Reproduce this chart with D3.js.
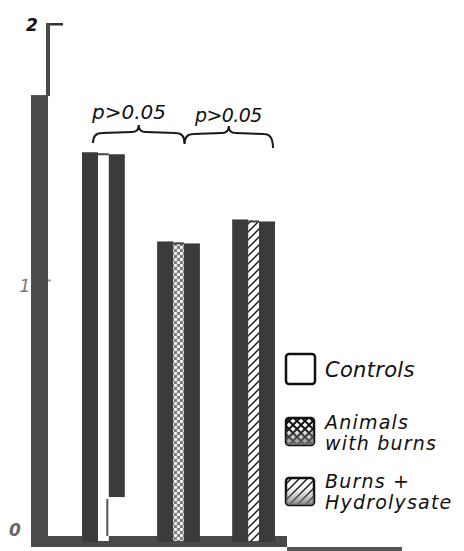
<!DOCTYPE html>
<html>
<head>
<meta charset="utf-8">
<script src="https://cdn.jsdelivr.net/npm/d3@7"></script>
<style>
  body { margin: 0; background: #fff; }
  text { font-family: "DejaVu Sans", sans-serif; font-style: oblique; fill: #111; }
</style>
</head>
<body>
<div id="graph"></div>
<script>
// values
const categories = ["Controls", "Animals with burns", "Burns + Hydrolysate"];
const values = [1.50, 1.155, 1.24];
const fillIds = ["controls", "burns", "hydro"];
const yTicks = [0, 1, 2];
const legendLines = [["Controls"], ["Animals", "with burns"], ["Burns +", "Hydrolysate"]];
const pLabels = ["p>0.05", "p>0.05"];
const axisBarValue = 1.725;   // thick lower part of the left axis
const gapTop = 0.17;          // lower right edge of the control bar is missing in the print

const width = 464, height = 551;
const dark = "#3b3b3b";
const border = 16;

const svg = d3.select("#graph").append("svg")
  .attr("width", width)
  .attr("height", height);

// patterns
const defs = svg.append("defs");

const cross = defs.append("pattern")
  .attr("id", "burns").attr("patternUnits", "userSpaceOnUse")
  .attr("width", 6).attr("height", 6);
cross.append("rect").attr("width", 6).attr("height", 6).attr("fill", "#7a7a7a");
cross.append("circle").attr("cx", 1.5).attr("cy", 1.5).attr("r", 1.7).attr("fill", "#f2f2f2");
cross.append("circle").attr("cx", 4.5).attr("cy", 4.5).attr("r", 1.7).attr("fill", "#f2f2f2");

const hatch = defs.append("pattern")
  .attr("id", "hydro").attr("patternUnits", "userSpaceOnUse")
  .attr("width", 8).attr("height", 8);
hatch.append("rect").attr("width", 8).attr("height", 8).attr("fill", "#fff");
hatch.append("path").attr("d", "M-2,10 L10,-2 M-2,2 L2,-2 M6,10 L10,6")
  .attr("stroke", "#111").attr("stroke-width", 1.4);

const lattice = defs.append("pattern")
  .attr("id", "lattice").attr("patternUnits", "userSpaceOnUse")
  .attr("width", 8).attr("height", 8);
lattice.append("rect").attr("width", 8).attr("height", 8).attr("fill", "#fff");
lattice.append("path").attr("d", "M0,0 L8,8 M8,0 L0,8")
  .attr("stroke", "#111").attr("stroke-width", 2);

const fade = defs.append("linearGradient")
  .attr("id", "fade").attr("x1", 0).attr("y1", 0).attr("x2", 0).attr("y2", 1);
fade.append("stop").attr("offset", "0.35").attr("stop-color", "#888").attr("stop-opacity", 0);
fade.append("stop").attr("offset", "1").attr("stop-color", "#777").attr("stop-opacity", 0.85);

// scales
const y = d3.scaleLinear().domain([0, 2]).range([541, 24]);
const x = d3.scaleBand().domain(categories).range([82, 275]).paddingInner(0.43);
const bw = x.bandwidth();

// left axis: thin line on top, thick bar below
svg.append("rect")
  .attr("x", 46).attr("y", y(2) - 1)
  .attr("width", 4).attr("height", y(axisBarValue) - y(2) + 2)
  .attr("fill", "#4a4a4a");
svg.append("rect")
  .attr("x", 31).attr("y", y(axisBarValue))
  .attr("width", 17).attr("height", y(0) - y(axisBarValue))
  .attr("fill", "#4a4a4a");
svg.append("rect")
  .attr("x", 50).attr("y", y(2) - 1)
  .attr("width", 13).attr("height", 2.5)
  .attr("fill", "#333");
svg.append("rect")
  .attr("x", 48).attr("y", y(1) - 3)
  .attr("width", 3).attr("height", 2)
  .attr("fill", "#999");

// tick labels
const tickPos = { 0: [15, 11, "#666"], 1: [25, -3, "#777"], 2: [32, -1, "#111"] };
svg.selectAll(".tick-label")
  .data(yTicks)
  .enter().append("text")
    .attr("class", "tick-label")
    .attr("x", d => tickPos[d][0])
    .attr("y", d => y(d) - tickPos[d][1] + 6)
    .attr("text-anchor", "middle")
    .style("font-size", "17px")
    .style("font-weight", d => d === 1 ? "normal" : "bold")
    .style("fill", d => tickPos[d][2])
    .text(d => d);

// baseline
svg.append("rect")
  .attr("x", 31).attr("y", y(0) - 5)
  .attr("width", 256).attr("height", 11)
  .attr("fill", "#4a4a4a");
svg.append("rect")
  .attr("x", 287).attr("y", y(0) + 6)
  .attr("width", 115).attr("height", 4)
  .attr("fill", "#555");

// bars: thick dark outline with patterned core
const bars = svg.selectAll(".bar")
  .data(categories)
  .enter().append("g")
    .attr("class", "bar");

bars.append("rect")
  .attr("x", d => x(d) + border)
  .attr("y", (d, i) => y(values[i]))
  .attr("width", bw - 2 * border)
  .attr("height", (d, i) => y(0) - y(values[i]))
  .attr("fill", (d, i) => fillIds[i] === "controls" ? "#fff" : "url(#" + fillIds[i] + ")");

bars.append("rect")
  .attr("x", d => x(d) + border)
  .attr("y", (d, i) => y(values[i]))
  .attr("width", bw - 2 * border)
  .attr("height", 2)
  .attr("fill", "#444");

bars.append("rect")
  .attr("x", d => x(d))
  .attr("y", (d, i) => y(values[i]) - 1)
  .attr("width", border)
  .attr("height", (d, i) => y(0) - y(values[i]) + 2)
  .attr("fill", dark);

bars.append("rect")
  .attr("x", d => x(d) + bw - border)
  .attr("y", (d, i) => y(values[i]) + 1)
  .attr("width", border)
  .attr("height", (d, i) => (i === 0 ? y(gapTop) : y(0) + 1) - y(values[i]) - 1)
  .attr("fill", dark);

// thin stroke left where the control bar's edge is missing
svg.append("line")
  .attr("x1", x(categories[0]) + bw - border - 1.5)
  .attr("x2", x(categories[0]) + bw - border - 1.5)
  .attr("y1", y(gapTop) + 2).attr("y2", y(0) - 5)
  .attr("stroke", "#555").attr("stroke-width", 2);

// braces with p values
function brace(x0, x1, yb, drop1) {
  const xm = (x0 + x1) / 2;
  return "M" + x0 + "," + (yb + 10) +
    " Q" + x0 + "," + yb + " " + (x0 + 9) + "," + yb +
    " L" + (xm - 7) + "," + (yb - 1) +
    " Q" + xm + "," + (yb - 1) + " " + xm + "," + (yb - 8) +
    " Q" + xm + "," + (yb - 1) + " " + (xm + 7) + "," + (yb - 1) +
    " L" + (x1 - 9) + "," + yb +
    " Q" + x1 + "," + yb + " " + x1 + "," + (yb + drop1);
}

const bx = [x(categories[0]) + 11, x(categories[1]) + bw / 2 + 6, x(categories[2]) + bw - 2];
svg.selectAll(".brace")
  .data(pLabels)
  .enter().append("path")
    .attr("class", "brace")
    .attr("d", (d, i) => brace(bx[i], bx[i + 1], 133 + i, i === 0 ? 10 : 14))
    .attr("fill", "none")
    .attr("stroke", "#1a1a1a")
    .attr("stroke-width", 2);

svg.selectAll(".plabel")
  .data(pLabels)
  .enter().append("text")
    .attr("class", "plabel")
    .attr("x", (d, i) => i === 0 ? 92 : 195)
    .attr("y", (d, i) => i === 0 ? 119 : 122)
    .style("font-size", (d, i) => i === 0 ? "20px" : "19px")
    .style("letter-spacing", (d, i) => i === 0 ? "0px" : "-0.6px")
    .text(d => d);

// legend
const legendTop = [353, 417, 477];
const lineBase = [[24], [12, 33], [11, 32]];
const legend = svg.selectAll(".legend")
  .data(legendLines)
  .enter().append("g")
    .attr("class", "legend")
    .attr("transform", (d, i) => "translate(285," + legendTop[i] + ")");

legend.append("rect")
  .attr("x", 1).attr("y", 1)
  .attr("width", (d, i) => i === 0 ? 29 : 28)
  .attr("height", (d, i) => i === 0 ? 30 : 27)
  .attr("rx", 3)
  .attr("fill", (d, i) => i === 0 ? "#fff" : i === 1 ? "url(#lattice)" : "url(#hydro)")
  .attr("stroke", "#111")
  .attr("stroke-width", 2.5);

legend.filter((d, i) => i > 0).append("rect")
  .attr("x", 1).attr("y", 1)
  .attr("width", 28).attr("height", 27)
  .attr("rx", 3)
  .attr("fill", "url(#fade)");

legend.each(function (lines, i) {
  d3.select(this).selectAll("text")
    .data(lines)
    .enter().append("text")
      .attr("x", 40)
      .attr("y", (d, j) => lineBase[i][j])
      .style("font-size", i === 0 ? "21px" : "19px")
      .style("letter-spacing", i === 0 ? "0.3px" : "1.2px")
      .text(d => d);
});
</script>
</body>
</html>
